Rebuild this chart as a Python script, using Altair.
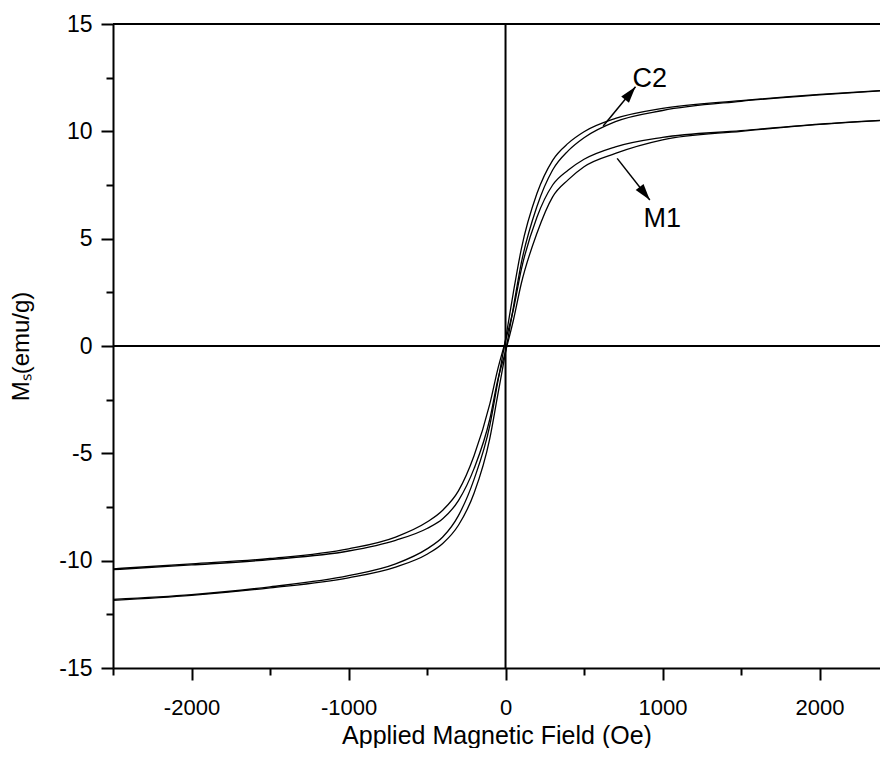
import altair as alt
import pandas as pd

# Applied field (Oe)
H = [-2500, -2000, -1500, -1000, -700, -500, -400, -300, -200, -100, -50, 0,
     50, 100, 200, 300, 400, 500, 700, 1000, 1500, 2000, 2500]

# Magnetisation branches (emu/g)
C2_desc = [-11.80, -11.58, -11.22, -10.70, -10.15, -9.45, -8.90, -7.90, -6.20, -3.70, -1.70, 0.30,
           2.50, 4.50, 7.10, 8.65, 9.45, 9.98, 10.60, 11.07, 11.43, 11.72, 11.95]
C2_asc = [-11.85, -11.62, -11.27, -10.80, -10.30, -9.70, -9.20, -8.35, -6.85, -4.30, -2.30, -0.30,
          1.80, 3.85, 6.50, 8.20, 9.10, 9.70, 10.45, 10.97, 11.40, 11.70, 11.94]
M1_desc = [-10.38, -10.15, -9.90, -9.45, -8.90, -8.20, -7.65, -6.75, -5.10, -2.70, -1.10, 0.25,
           1.70, 3.55, 6.00, 7.50, 8.20, 8.70, 9.28, 9.72, 10.03, 10.34, 10.56]
M1_asc = [-10.42, -10.20, -9.95, -9.55, -9.05, -8.50, -8.05, -7.20, -5.70, -3.40, -1.60, -0.25,
          1.20, 2.90, 5.25, 6.95, 7.75, 8.35, 8.97, 9.60, 10.00, 10.32, 10.55]

branches = {"C2_desc": C2_desc, "C2_asc": C2_asc, "M1_desc": M1_desc, "M1_asc": M1_asc}

# Annotation labels and arrows (data coordinates)
labels = ["C2", "M1"]
label_h = [809, 879]
label_m = [12.06, 5.54]
arrow_h0 = [622, 711]
arrow_m0 = [10.25, 8.74]
arrow_h1 = [828, 919]
arrow_m1 = [12.08, 6.80]
arrow_angle = [39, 142]

rows = []
for name, vals in branches.items():
    for h, m in zip(H, vals):
        rows.append({"branch": name, "H": h, "M": m})
curves = pd.DataFrame(rows)

ann = pd.DataFrame({"label": labels, "h": label_h, "m": label_m})
arr = pd.DataFrame({"h0": arrow_h0, "m0": arrow_m0, "h1": arrow_h1, "m1": arrow_m1,
                    "angle": arrow_angle})

FONT = "Liberation Sans"
xdom = [-2500, 2385]
ydom = [-15, 15]

xscale = alt.Scale(domain=xdom, nice=False, zero=False)
yscale = alt.Scale(domain=ydom, nice=False, zero=False)

xvals = [-2500, -2000, -1500, -1000, -500, 0, 500, 1000, 1500, 2000]
yvals = [-15, -12.5, -10, -7.5, -5, -2.5, 0, 2.5, 5, 7.5, 10, 12.5, 15]

xaxis = alt.Axis(
    values=xvals,
    labelExpr="datum.value % 1000 == 0 ? '' + datum.value : ''",
    tickSize={"condition": {"test": "datum.value % 1000 == 0", "value": 12}, "value": 7},
    grid=False, domainColor="black", domainWidth=2, tickColor="black", tickWidth=2,
    labelFont=FONT, labelFontSize=22, labelColor="black", labelPadding=17,
    title="Applied Magnetic Field (Oe)", titleFont=FONT, titleFontSize=25,
    titleFontWeight="normal", titleColor="black", titlePadding=5,
)
yaxis = alt.Axis(
    values=yvals,
    labelExpr="datum.value % 5 == 0 ? '' + datum.value : ''",
    tickSize={"condition": {"test": "datum.value % 5 == 0", "value": 12}, "value": 7},
    grid=False, domainColor="black", domainWidth=2, tickColor="black", tickWidth=2,
    labelFont=FONT, labelFontSize=23, labelColor="black", labelPadding=9,
    title="Mₛ(emu/g)", titleFont=FONT, titleFontSize=24,
    titleFontWeight="normal", titleColor="black", titlePadding=25,
)


def X(field):
    return alt.X(field, type="quantitative", scale=xscale, axis=xaxis)


def Y(field):
    return alt.Y(field, type="quantitative", scale=yscale, axis=yaxis)


lines = alt.Chart(curves).mark_line(
    color="black", strokeWidth=1.3, interpolate="monotone", clip=True
).encode(x=X("H"), y=Y("M"), detail="branch:N")

zero_df = pd.DataFrame({"v": [0]})
vrule = alt.Chart(zero_df).mark_rule(color="black", strokeWidth=2).encode(x=X("v"))
hrule = alt.Chart(zero_df).mark_rule(color="black", strokeWidth=2).encode(y=Y("v"))
top_df = pd.DataFrame({"v": [15]})
toprule = alt.Chart(top_df).mark_rule(color="black", strokeWidth=2).encode(y=Y("v"))

arrow_lines = alt.Chart(arr).mark_rule(color="black", strokeWidth=1.5).encode(
    x=X("h0"), y=Y("m0"), x2="h1:Q", y2="m1:Q",
)
arrow_heads = alt.Chart(arr).mark_point(
    shape="M0,0L0.3,1L-0.3,1Z", filled=True, color="black", size=1100, opacity=1
).encode(
    x=X("h1"), y=Y("m1"),
    angle=alt.Angle("angle:Q", scale=None),
)
texts = alt.Chart(ann).mark_text(
    font=FONT, fontSize=27, color="black", align="left", baseline="alphabetic"
).encode(x=X("h"), y=Y("m"), text="label:N")

chart = alt.layer(lines, vrule, hrule, toprule, arrow_lines, arrow_heads, texts).properties(
    width=767,
    height=644,
    autosize=alt.AutoSizeParams(type="none"),
    padding={"left": 105, "top": 16, "right": 0, "bottom": 80},
).configure_view(stroke=None).configure(background="white")

chart.save("out.html", embed_options={"renderer": "svg", "actions": False})
